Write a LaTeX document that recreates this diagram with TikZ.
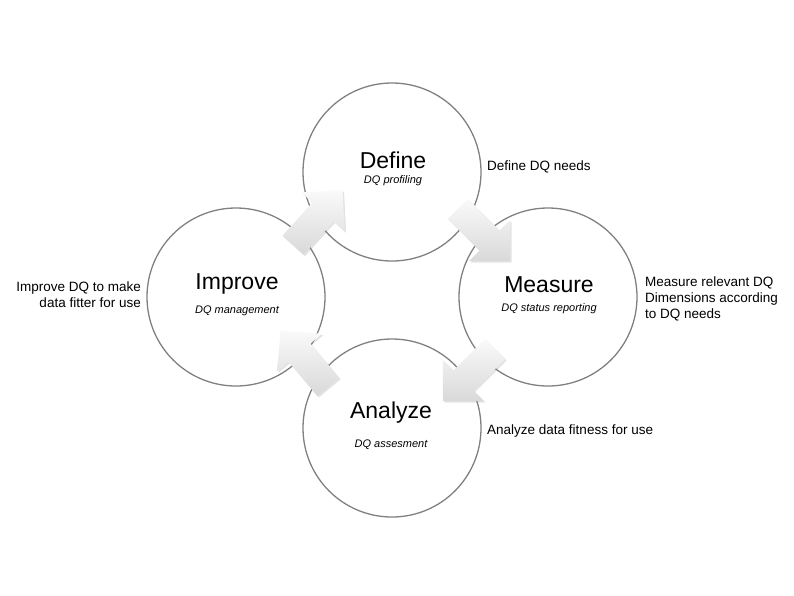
\documentclass[tikz,border=0pt]{standalone}
\usepackage{fontspec}
\setmainfont{Liberation Sans}
\usetikzlibrary{positioning}
\usetikzlibrary{shapes.arrows,shadows}

\begin{document}
\begin{tikzpicture}[every node/.style={inner sep=0pt},x=1pt,y=-1pt,
  stage/.style={circle,draw=black!50,line width=1.3pt,minimum size=178pt},
  title/.style={font=\fontsize{23}{26}\selectfont},
  sub/.style={font=\fontsize{11}{13}\selectfont\itshape},
  note/.style={font=\fontsize{13.5}{16}\selectfont},
  flow/.style={single arrow,inner xsep=0pt,inner ysep=14pt,minimum height=74pt,
    single arrow head extend=15pt,single arrow head indent=0pt,
    top color=gray!4,bottom color=gray!30,draw=none,
    drop shadow={opacity=0.22,shadow xshift=1.5pt,shadow yshift=-1.5pt}}]
\useasboundingbox (0,0) rectangle (794,595);
% the four stages
\node[stage] (define) at (392,172) {};
\node[stage] (measure) at (548,297) {};
\node[stage] (analyze) at (392,428) {};
\node[stage] (improve) at (236,297) {};
% names
\node[title] (definet) at (393,160) {Define};
\node[sub,below=7pt of definet] (defines) {DQ profiling};
\node[title] (measuret) at (549,285) {Measure};
\node[sub,below=10pt of measuret] (measures) {DQ status reporting};
\node[title] (analyzet) at (391,413) {Analyze};
\node[sub,below=16pt of analyzet] (analyzes) {DQ assesment};
\node[title] (improvet) at (237,284) {Improve};
\node[sub,below=11pt of improvet] (improves) {DQ management};
% notes
\node[note,anchor=west] (definen) at (487,167) {Define DQ needs};
\node[note,anchor=west,align=left] (measuren) at (645,299) {Measure relevant DQ\\Dimensions according\\to DQ needs};
\node[note,anchor=west] (analyzen) at (487,431) {Analyze data fitness for use};
\node[note,anchor=east,align=right] (improven) at (141,295) {Improve DQ to make\\data fitter for use};
% cycle arrows
\node[flow,rotate=48] (a1) at (313,223) {};
\node[flow,rotate=-45] (a2) at (479,230) {};
\node[flow,rotate=-135] (a3) at (474,370) {};
\node[flow,rotate=130] (a4) at (309,364) {};
\end{tikzpicture}
\end{document}
